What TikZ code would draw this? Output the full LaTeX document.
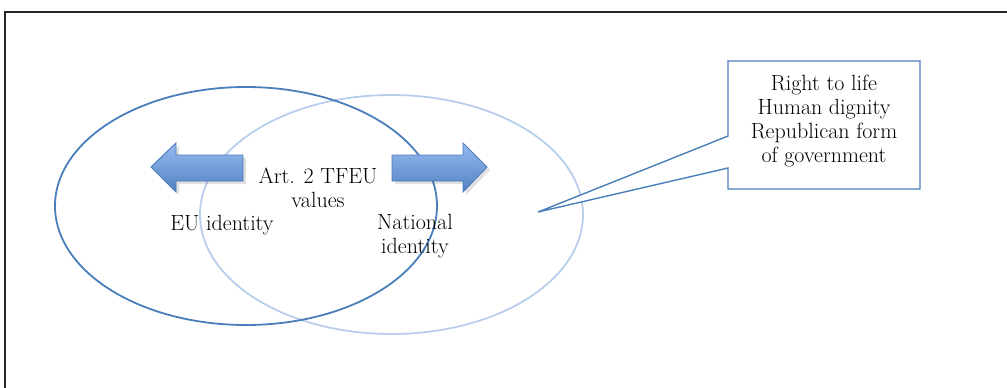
\documentclass[tikz,border=0pt]{standalone}
\usepackage{fontspec}
\setmainfont{Latin Modern Roman}
\usetikzlibrary{calc}
\definecolor{darkblue}{RGB}{74,126,187}
\definecolor{lightblue}{RGB}{185,206,236}
\definecolor{arrtop}{RGB}{150,186,238}
\definecolor{arrbot}{RGB}{82,130,196}
\definecolor{arrline}{RGB}{74,122,186}
\tikzset{
  frameline/.style={line width=1.6pt, black!85},
  ellA/.style={draw=darkblue, line width=1.8pt},
  ellB/.style={draw=lightblue, line width=1.8pt},
  fatarrow/.style={draw=arrline, line width=0.9pt, top color=arrtop, bottom color=arrbot, line join=miter},
  arrshadow/.style={fill=black, opacity=0.12},
  lbl/.style={font=\fontsize{22}{24}\selectfont, align=center, inner sep=0pt, text=black},
  calloutline/.style={draw=darkblue, line width=1.4pt, fill=white, line join=miter}
}
\begin{document}
\begin{tikzpicture}[x=1pt,y=-1pt]
\useasboundingbox (0,0) rectangle (1007,388);
% frame
\draw[frameline] (5,400) -- (5,12) -- (1010,12);
% ellipses
\draw[ellB] (391.5,214.5) ellipse [x radius=191.5, y radius=119.5];
\draw[ellA] (246,206) ellipse [x radius=191, y radius=119];
% arrow shadows
\fill[arrshadow] (154,170) -- (179,146) -- (179,158) -- (246,158) -- (246,184) -- (179,184) -- (179,195) -- cycle;
\fill[arrshadow] (395,158) -- (466,158) -- (466,146) -- (490,170) -- (466,195) -- (466,184) -- (395,184) -- cycle;
% arrows
\path[fatarrow] (151,167) -- (176,143) -- (176,155) -- (243,155) -- (243,181) -- (176,181) -- (176,192) -- cycle;
\path[fatarrow] (392,155) -- (463,155) -- (463,143) -- (487,167) -- (463,192) -- (463,181) -- (392,181) -- cycle;
% labels
\node[lbl] (art) at (318,188) {Art. 2 TFEU\\values};
\node[lbl] (eu) at (222,225) {EU identity};
\node[lbl] (nat) at (415,236) {National\\identity};
% callout
\coordinate (tip) at (538,212);
\path[calloutline] (728,61) -- (920,61) -- (920,189) -- (728,189) -- (728,168) -- (tip) -- (728,136) -- cycle;
\node[lbl] (box) at (824,121) {Right to life\\Human dignity\\Republican form\\of government};
\end{tikzpicture}
\end{document}
